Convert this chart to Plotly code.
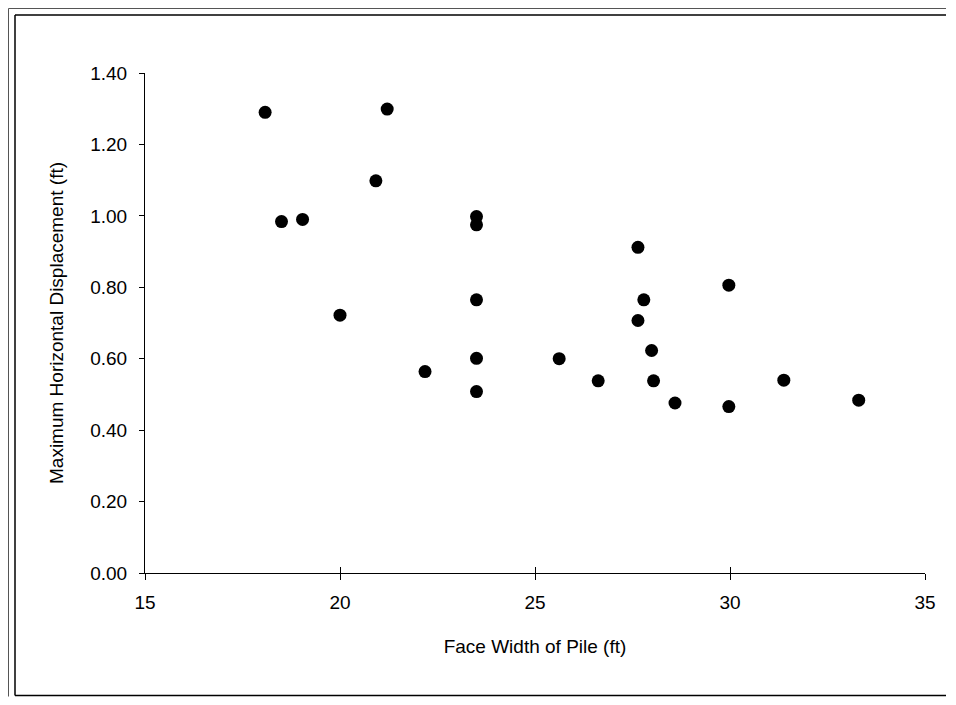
import plotly.graph_objects as go

face_width_ft = [18.08, 18.50, 19.04, 20.00, 20.92, 21.21, 22.18, 23.5, 23.5, 23.5,
                 23.5, 23.5, 25.62, 26.62, 27.64, 27.64, 27.79, 27.99, 28.04, 28.59,
                 29.97, 29.97, 31.38, 33.30]
max_disp_ft = [1.290, 0.984, 0.990, 0.722, 1.098, 1.299, 0.564, 0.998, 0.975, 0.765,
               0.601, 0.508, 0.600, 0.538, 0.912, 0.707, 0.765, 0.623, 0.538, 0.476,
               0.806, 0.466, 0.540, 0.484]

x_ticks = [15, 20, 25, 30, 35]
y_ticks = [0.0, 0.2, 0.4, 0.6, 0.8, 1.0, 1.2, 1.4]
y_tick_text = ["0.00", "0.20", "0.40", "0.60", "0.80", "1.00", "1.20", "1.40"]

FONT = "Liberation Sans, Arial, Helvetica, sans-serif"
OFF = 8  # default page body margin
W, H = 956 - 2 * OFF, 705 - 2 * OFF
L, T = 145 - OFF, 73 - OFF
R = W - L - 780
B = H - T - 500
pw, ph = W - L - R, H - T - B

def px(x):  # page pixel -> paper coord
    return (x - OFF - L) / pw

def py(y):
    return (OFF + H - B - y) / ph

fig = go.Figure()
fig.add_trace(go.Scatter(
    x=face_width_ft, y=max_disp_ft, mode="markers",
    marker=dict(color="black", size=13, line=dict(width=0)),
    showlegend=False, hoverinfo="x+y",
))
# invisible trace to carry the inside half of the crossing x ticks
fig.add_trace(go.Scatter(
    x=face_width_ft, y=max_disp_ft, mode="markers", xaxis="x2",
    marker=dict(opacity=0), showlegend=False, hoverinfo="skip",
))

frame = dict(color="black", width=1.5)
outer = dict(color="#555", width=1)
bottom = OFF + H - 1.5
right = OFF + W - 2
fig.update_layout(
    width=W, height=H,
    margin=dict(l=L, r=R, t=T, b=B, pad=0),
    paper_bgcolor="white", plot_bgcolor="white",
    font=dict(family=FONT, size=19, color="black"),
    xaxis=dict(
        range=[15, 35], tickvals=x_ticks, ticktext=[str(v) for v in x_ticks],
        ticks="outside", ticklen=6, tickwidth=1, tickcolor="black",
        showline=True, linecolor="black", linewidth=1,
        showgrid=False, zeroline=False,
        title=dict(text="Face Width of Pile (ft)", standoff=27,
                   font=dict(size=19, family=FONT)),
        tickfont=dict(size=19, family=FONT),
        ticklabelstandoff=6,
    ),
    xaxis2=dict(
        range=[15, 35], tickvals=x_ticks, overlaying="x", anchor="y",
        side="bottom", ticks="inside", ticklen=6, tickwidth=1, tickcolor="black",
        showticklabels=False, showline=False, showgrid=False, zeroline=False,
    ),
    yaxis=dict(
        range=[0, 1.4], tickvals=y_ticks, ticktext=y_tick_text,
        ticks="outside", ticklen=5, tickwidth=1, tickcolor="black",
        showline=True, linecolor="black", linewidth=1,
        showgrid=False, zeroline=False,
        title=dict(text="Maximum Horizontal Displacement (ft)", standoff=21,
                   font=dict(size=19, family=FONT)),
        tickfont=dict(size=19, family=FONT),
        ticklabelstandoff=8,
    ),
    shapes=[
        dict(type="line", xref="paper", yref="paper",
             x0=px(15), x1=px(right), y0=py(15), y1=py(15), line=frame),
        dict(type="line", xref="paper", yref="paper",
             x0=px(15), x1=px(15), y0=py(15), y1=py(bottom), line=frame),
        dict(type="line", xref="paper", yref="paper",
             x0=px(15), x1=px(right), y0=py(bottom), y1=py(bottom), line=frame),
        dict(type="line", xref="paper", yref="paper",
             x0=px(8.5), x1=px(right), y0=py(8.5), y1=py(8.5), line=outer),
        dict(type="line", xref="paper", yref="paper",
             x0=px(8.5), x1=px(8.5), y0=py(8.5), y1=py(OFF + H - 0.5), line=outer),
    ],
)

fig.write_html("out.html")
